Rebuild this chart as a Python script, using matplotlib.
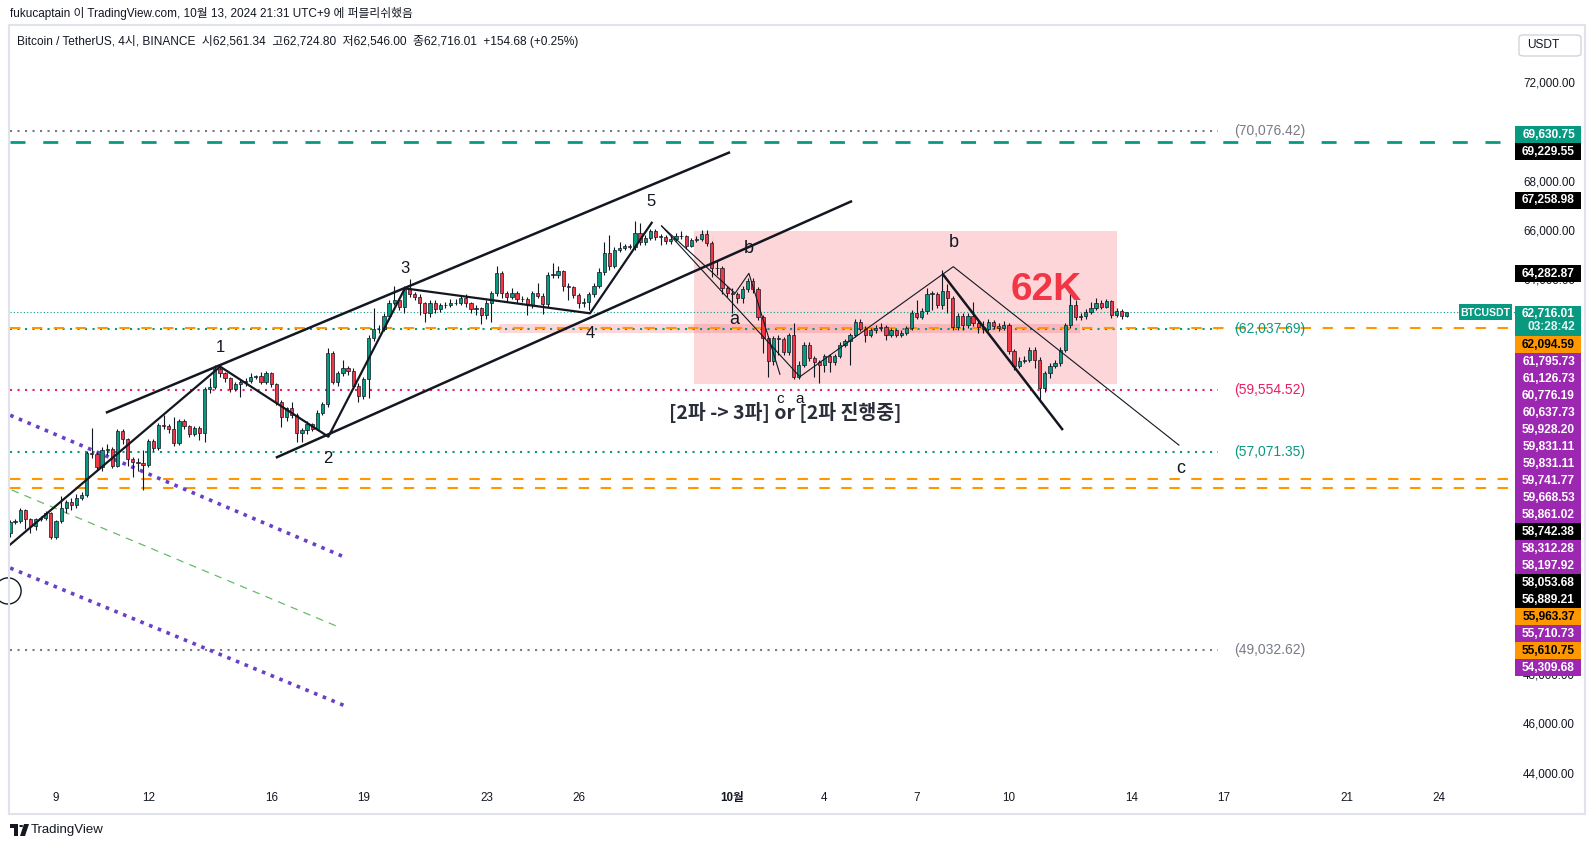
import numpy as np
import matplotlib
matplotlib.use("Agg")
import matplotlib.pyplot as plt
import matplotlib.patches as mpatches

plt.rcParams['font.family'] = ['Liberation Sans', 'Noto Sans CJK KR', 'DejaVu Sans']

W, H = 1596, 848

# ---- 4h candles, BTC/USDT, prices in thousands (first candle: Sep 7 12:00) ----
first_open_k = 53.77
close_k = [
    54.24, 54.26, 54.71, 54.34, 54.06, 54.33, 54.37, 54.58, 53.60, 54.26,
    54.78, 55.02, 54.90, 55.18, 55.32, 57.01, 56.98, 56.44, 57.14, 57.18,
    56.50, 57.92, 57.58, 56.77, 56.64, 56.60, 56.55, 57.52, 57.24, 58.16,
    58.11, 57.99, 57.44, 58.32, 58.10, 57.78, 58.03, 57.82, 59.60, 59.68,
    60.41, 60.25, 60.04, 59.63, 59.82, 59.90, 59.95, 60.11, 60.12, 59.91,
    60.25, 59.80, 59.07, 58.49, 58.83, 58.56, 57.82, 57.95, 58.18, 58.00,
    58.65, 59.00, 61.06, 59.91, 60.25, 60.45, 60.36, 59.75, 59.33, 60.00,
    61.69, 62.03, 62.05, 62.57, 63.08, 63.20, 62.92, 63.65, 63.45, 63.35,
    63.08, 62.70, 63.11, 62.84, 63.00, 63.02, 63.10, 63.09, 63.31, 63.08,
    62.85, 62.90, 62.61, 63.11, 63.49, 64.30, 63.49, 63.35, 63.50, 63.25,
    63.28, 63.02, 63.49, 63.40, 63.06, 64.23, 64.24, 64.39, 63.79, 63.73,
    63.42, 63.11, 63.12, 63.45, 63.79, 64.37, 65.14, 64.60, 65.25, 65.34,
    65.40, 65.38, 65.92, 65.58, 65.72, 66.00, 65.78, 65.79, 65.60, 65.69,
    65.82, 65.80, 65.41, 65.65, 65.68, 65.88, 65.52, 64.50, 64.52, 63.72,
    63.49, 63.45, 63.30, 63.66, 63.99, 63.66, 62.54, 61.66, 60.75, 61.66,
    61.62, 61.13, 61.80, 60.11, 60.59, 61.40, 60.86, 60.70, 60.60, 60.96,
    60.70, 60.93, 61.40, 61.55, 61.80, 62.32, 62.05, 61.80, 62.00, 62.10,
    62.12, 61.80, 62.00, 61.82, 61.90, 62.07, 62.68, 62.55, 62.77, 63.46,
    63.47, 63.02, 63.58, 63.31, 62.14, 62.58, 62.22, 62.58, 62.28, 62.14,
    62.05, 62.32, 62.18, 62.09, 62.22, 61.17, 60.55, 60.75, 60.80, 61.20,
    60.79, 59.64, 60.25, 60.54, 60.66, 61.19, 62.20, 63.02, 62.55, 62.56,
    62.72, 62.90, 63.10, 62.95, 63.16, 62.61, 62.77, 62.56134, 62.71601,
]
high_k = [
    54.30, 54.35, 54.80, 54.75, 54.40, 54.40, 54.45, 54.65, 54.62, 54.30,
    55.29, 55.10, 55.20, 55.35, 55.45, 57.10, 58.02, 57.05, 57.25, 57.40,
    57.25, 58.00, 57.98, 57.62, 56.85, 56.80, 57.14, 57.60, 57.60, 58.25,
    58.55, 58.20, 58.49, 58.40, 58.40, 58.15, 58.10, 58.10, 59.70, 60.05,
    60.59, 60.50, 60.30, 60.10, 59.90, 60.00, 60.05, 60.25, 60.20, 60.30,
    60.35, 60.30, 59.85, 59.15, 58.90, 59.10, 58.65, 58.05, 58.30, 58.25,
    58.75, 59.10, 61.26, 61.15, 60.35, 60.80, 60.55, 60.45, 59.85, 60.10,
    61.80, 62.90, 62.20, 62.70, 63.20, 63.79, 63.30, 63.79, 64.07, 63.55,
    63.45, 63.15, 63.20, 63.20, 63.10, 63.15, 63.25, 63.25, 63.40, 63.45,
    63.15, 63.00, 62.95, 63.20, 63.60, 64.60, 64.40, 63.60, 63.70, 63.60,
    63.40, 63.35, 63.60, 63.90, 63.50, 64.35, 64.70, 64.60, 64.45, 63.90,
    63.80, 63.50, 63.30, 63.55, 63.90, 64.50, 65.55, 65.85, 65.35, 65.55,
    65.50, 65.50, 66.42, 66.35, 65.85, 66.10, 66.10, 65.90, 65.85, 65.85,
    65.95, 66.00, 65.85, 65.75, 65.80, 66.05, 66.05, 65.60, 64.85, 64.60,
    63.80, 63.70, 63.55, 63.80, 64.10, 64.10, 63.75, 62.60, 61.75, 61.75,
    61.80, 61.70, 61.90, 62.30, 60.75, 61.50, 61.50, 60.95, 60.80, 61.05,
    61.05, 61.05, 61.50, 61.65, 61.90, 62.45, 62.45, 62.15, 62.10, 62.20,
    62.30, 62.20, 62.10, 62.05, 62.00, 62.15, 62.80, 63.20, 62.90, 63.70,
    63.60, 63.55, 64.43, 63.85, 63.40, 62.70, 62.70, 62.70, 63.15, 62.40,
    62.35, 62.45, 62.40, 62.30, 62.35, 62.30, 61.25, 60.90, 60.95, 61.30,
    61.30, 60.90, 60.35, 60.65, 60.80, 61.30, 62.30, 63.50, 63.20, 62.70,
    62.85, 63.15, 63.30, 63.20, 63.25, 63.20, 62.90, 62.85, 62.7248,
]
low_k = [
    53.60, 54.15, 54.20, 53.94, 53.78, 53.90, 54.25, 54.30, 53.55, 53.55,
    54.20, 54.60, 54.70, 54.80, 55.10, 55.25, 56.80, 56.35, 56.30, 56.95,
    56.40, 56.45, 57.40, 56.50, 56.06, 56.30, 55.52, 56.45, 57.10, 57.15,
    58.00, 57.85, 57.30, 57.35, 58.00, 57.65, 57.70, 57.55, 57.45, 59.45,
    59.60, 60.10, 59.90, 59.50, 59.55, 59.30, 59.75, 59.85, 60.00, 59.80,
    59.80, 59.70, 58.95, 58.09, 58.30, 58.45, 57.48, 57.48, 57.80, 57.90,
    57.95, 58.55, 58.90, 59.80, 59.75, 60.15, 60.20, 59.60, 59.10, 59.20,
    59.25, 61.55, 61.90, 61.95, 62.45, 63.00, 62.80, 62.70, 63.35, 63.20,
    62.60, 62.34, 62.55, 62.70, 62.75, 62.90, 62.95, 63.00, 63.00, 62.95,
    62.70, 62.60, 62.25, 62.45, 62.34, 63.40, 63.30, 63.15, 63.25, 63.10,
    63.15, 62.60, 62.90, 63.30, 62.65, 62.95, 64.10, 64.10, 63.60, 63.20,
    63.30, 62.90, 62.95, 62.80, 63.35, 63.70, 64.25, 64.45, 64.50, 65.15,
    65.25, 65.30, 65.25, 65.45, 65.45, 65.65, 65.65, 65.45, 65.50, 65.50,
    65.60, 65.70, 65.30, 65.35, 65.55, 65.60, 65.40, 64.15, 64.25, 63.45,
    63.35, 62.70, 63.10, 63.10, 63.55, 63.50, 62.40, 61.06, 60.11, 60.60,
    61.00, 61.00, 61.00, 60.00, 60.00, 60.50, 60.75, 60.11, 59.85, 60.30,
    60.30, 60.60, 60.85, 61.30, 60.60, 61.70, 61.95, 61.50, 61.70, 61.90,
    61.95, 61.60, 61.70, 61.70, 61.70, 61.80, 62.00, 62.45, 62.45, 62.65,
    62.80, 62.90, 62.85, 62.70, 62.00, 62.00, 62.00, 62.10, 62.15, 61.90,
    61.90, 61.95, 62.05, 61.95, 62.00, 61.05, 60.40, 60.45, 60.65, 60.70,
    60.45, 59.10, 59.50, 60.05, 60.45, 60.55, 61.10, 62.10, 62.40, 62.40,
    62.45, 62.65, 62.80, 62.85, 62.90, 62.50, 62.55, 62.45, 62.546,
]
first_day = 7.5          # day-of-September axis (Oct 1 = 31)
candle_step = 1 / 6      # 4 hours

# ---- horizontal levels ----
fib_prices = [70076.42, 62037.69, 59554.52, 57071.35, 49032.62]
fib_colors = ['#787b86', '#089981', '#e91e63', '#089981', '#787b86']
cur_price = 62716.01
teal_dash_price = 69630.75
orange_prices = [62094.59, 55963.37, 55610.75]

# ---- right-axis price labels ----
label_prices = [69630.75, 69229.55, 67258.98, 64282.87, 62094.59, 61795.73, 61126.73,
                60776.19, 60637.73, 59928.20, 59831.11, 59831.11, 59741.77, 59668.53,
                58861.02, 58742.38, 58312.28, 58197.92, 58053.68, 56889.21, 55963.37,
                55710.73, 55610.75, 54309.68]
label_kinds = ['teal', 'black', 'black', 'black', 'orange', 'purple', 'purple',
               'purple', 'purple', 'purple', 'purple', 'purple', 'purple', 'purple',
               'purple', 'black', 'purple', 'purple', 'black', 'black', 'orange',
               'purple', 'orange', 'purple']
axis_ticks = list(range(44000, 72001, 2000))

# ---- time axis ----
date_pos = [9, 12, 16, 19, 23, 26, 31, 34, 37, 40, 44, 47, 51, 54]
date_lbl = ['9', '12', '16', '19', '23', '26', '10월', '4', '7', '10', '14', '17', '21', '24']

# ---- drawings (day, price) ----
wave_days = [7.51, 14.34, 17.86, 20.35, 26.37, 28.38]
wave_prices = [53310, 60520, 57680, 63690, 62680, 66350]
chan_up = ([10.66, 30.89], [58670, 69190])
chan_lo = ([16.19, 34.86], [56850, 67210])
abc_small = ([28.70, 31.09, 31.54, 32.55], [66220, 63490, 64300, 60210])
abc_big = ([28.70, 33.20, 38.19, 45.53], [66220, 60110, 64570, 57340])
thick_down = ([37.87, 41.73], [64230, 57990])
purple_up = ([7.51, 18.37], [58550, 52810])
purple_lo = ([7.51, 18.37], [52360, 46790])
green_dash = ([7.56, 18.27], [55520, 49930])
box_days, box_prices = (29.75, 43.5), (59830, 66015)
band_days, band_prices = (23.41, 42.31), (61870, 62235)

# ---------------------------------------------------------------
X0, X1, Y0, Y1 = 10, 1515, 28, 786
DAY0, DAY1 = 7.5036, 56.463
P_BOT, P_TOP = 43526.6, 74240.8

def py(p):
    return Y0 + (P_TOP - p) / (P_TOP - P_BOT) * (Y1 - Y0)

def px(d):
    return X0 + (d - DAY0) / (DAY1 - DAY0) * (X1 - X0)

def F(x, y):
    return (x / W, 1 - y / H)

fig = plt.figure(figsize=(W / 100, H / 100), dpi=100)
fig.patch.set_facecolor('white')
ax = fig.add_axes([X0 / W, 1 - Y1 / H, (X1 - X0) / W, (Y1 - Y0) / H])
ax.set_xlim(DAY0, DAY1)
ax.set_ylim(P_BOT, P_TOP)
ax.axis('off')

GREEN, RED = '#089981', '#f23645'

# pink zone + band
ax.add_patch(mpatches.Rectangle((box_days[0], box_prices[0]), box_days[1] - box_days[0],
                                box_prices[1] - box_prices[0], facecolor=RED, alpha=0.2,
                                edgecolor='none', zorder=1))
ax.add_patch(mpatches.Rectangle((band_days[0], band_prices[0]), band_days[1] - band_days[0],
                                band_prices[1] - band_prices[0], facecolor=RED, alpha=0.2,
                                edgecolor='none', zorder=1))

# horizontal lines
fib_end = 46.8
for p, c in zip(fib_prices, fib_colors):
    ax.plot([DAY0, fib_end], [p, p], color=c, lw=1.5, dashes=(1, 2.6), zorder=2)
    ax.text(47.33, p, f'({p:,.2f})', color=c, fontsize=10, va='center', ha='left', zorder=6)
ax.plot([DAY0, DAY1], [teal_dash_price] * 2, color=GREEN, lw=2.0, dashes=(5.4, 6.4), zorder=2)
for p in orange_prices:
    ax.plot([DAY0, DAY1], [p, p], color='#ff9800', lw=1.5, dashes=(5, 5.5), zorder=2)
ax.plot([DAY0, DAY1], [cur_price] * 2, color=GREEN, lw=0.8, dashes=(1, 2), zorder=2)

# slanted dotted / dashed
for dd, pp in (purple_up, purple_lo):
    ax.plot(dd, pp, color='#6a3fc8', lw=2.6, dashes=(1, 1.6), zorder=2)
ax.plot(*green_dash, color='#66bb6a', lw=0.9, dashes=(6, 5), zorder=2)

# candles
close = np.array(close_k) * 1000
high = np.array(high_k) * 1000
low = np.array(low_k) * 1000
opn = np.r_[first_open_k * 1000, close[:-1]]
t = first_day + np.arange(len(close)) * candle_step
high = np.maximum(high, np.maximum(opn, close))
low = np.minimum(low, np.minimum(opn, close))
cols = [GREEN if c >= o else RED for o, c in zip(opn, close)]
ax.vlines(t, low, high, color='#131722', lw=0.8, zorder=3)
body = np.maximum(np.abs(close - opn), 25)
ax.bar(t, body, bottom=np.minimum(opn, close), width=0.105, color=cols,
       edgecolor='#131722', linewidth=0.5, zorder=3.5)

# wave drawings
K = '#131722'
ax.plot(wave_days, wave_prices, color=K, lw=1.6, zorder=4)
ax.plot(*chan_up, color=K, lw=1.8, zorder=4)
ax.plot(*chan_lo, color=K, lw=1.8, zorder=4)
ax.plot(*abc_small, color=K, lw=0.8, zorder=4)
ax.plot(*abc_big, color=K, lw=0.8, zorder=4)
ax.plot(*thick_down, color=K, lw=1.8, zorder=4)
ax.add_patch(mpatches.Ellipse((7.44, 51430), 0.85, 1060, fill=False, edgecolor=K,
                              lw=1.0, zorder=4, clip_on=False))

wave_txt = [('1', 14.34, 61275, 12), ('2', 17.85, 56817, 12), ('3', 20.35, 64476, 12),
            ('4', 26.37, 61842, 12), ('5', 28.37, 67210, 12), ('a', 31.06, 62409, 13),
            ('b', 31.54, 65326, 13), ('c', 32.55, 59208, 11), ('a', 33.20, 59208, 11),
            ('b', 38.21, 65569, 13), ('c', 45.60, 56372, 13)]
for s, d, p, fs in wave_txt:
    ax.text(d, p, s, fontsize=fs, color=K, ha='center', va='center', zorder=6)
ax.text(41.21, 63625, '62K', fontsize=28, color=RED, fontweight='bold',
        ha='center', va='center', zorder=6)
ax.text(32.72, 58681, '[2파 -> 3파] or [2파 진행중]', fontsize=14, color='#2a2e39',
        family=['Noto Sans CJK KR'], fontweight='bold', ha='center', va='center', zorder=6)

# ---- price axis labels (stacked like TradingView) ----
kind_col = {'teal': GREEN, 'black': '#000000', 'orange': '#ff9800', 'purple': '#9c27b0'}
LH = 17.0
boxes = []

def price_box(yc, col, txt, tcol='white', h=LH):
    boxes.append((yc - h / 2, yc + h / 2))
    fig.add_artist(mpatches.Rectangle(F(1515, yc + h / 2), 66 / W, h / H,
                                      transform=fig.transFigure, facecolor=col,
                                      edgecolor='none', zorder=5))
    fig.text(*F(1575, yc), txt, fontsize=8.6, color=tcol, fontweight='bold',
             ha='right', va='center', zorder=6)

cur_y = py(cur_price)
top_edge, bot_edge = cur_y - 6, cur_y + 24
above = [(p, k) for p, k in zip(label_prices, label_kinds) if p > cur_price]
below = [(p, k) for p, k in zip(label_prices, label_kinds) if p < cur_price]
edge = top_edge
for p, k in sorted(above):
    yc = min(py(p), edge - LH / 2)
    edge = yc - LH / 2
    price_box(yc, kind_col[k], f'{p:,.2f}', 'black' if k == 'orange' else 'white')
edge = bot_edge
for p, k in sorted(below, reverse=True):
    yc = max(py(p), edge + LH / 2)
    edge = yc + LH / 2
    price_box(yc, kind_col[k], f'{p:,.2f}', 'black' if k == 'orange' else 'white')

boxes.append((top_edge, bot_edge))
fig.add_artist(mpatches.Rectangle(F(1515, bot_edge), 66 / W, 30 / H, transform=fig.transFigure,
                                  facecolor=GREEN, edgecolor='none', zorder=5))
fig.text(*F(1575, cur_y + 2), f'{cur_price:,.2f}', fontsize=8.6, color='white',
         fontweight='bold', ha='right', va='center', zorder=6)
fig.text(*F(1575, cur_y + 15), '03:28:42', fontsize=8.6, color='#e8f5f2',
         fontweight='bold', ha='right', va='center', zorder=6)
fig.add_artist(mpatches.Rectangle(F(1459, cur_y + 8), 53 / W, 16 / H, transform=fig.transFigure,
                                  facecolor=GREEN, edgecolor='none', zorder=5))
fig.text(*F(1485.5, cur_y + 0.5), 'BTCUSDT', fontsize=7.6, color='white', fontweight='bold',
         ha='center', va='center', zorder=6)

# axis ticks: skip the ones hidden behind a label box
for p in axis_ticks:
    y = py(p)
    if any(a + 3 < y < b - 3 for a, b in boxes):
        continue
    fig.text(*F(1575, y), f'{p:,.2f}', fontsize=8.4, color='#131722',
             ha='right', va='center', zorder=3)

# USDT button
fig.add_artist(mpatches.FancyBboxPatch(F(1519, 56), 62 / W, 21 / H, transform=fig.transFigure,
                                       boxstyle='round,pad=0,rounding_size=0.003',
                                       facecolor='white', edgecolor='#d1d4dc', lw=1, zorder=5))
fig.text(*F(1527, 45.5), 'USDT', fontsize=8.6, color='#131722', ha='left', va='center', zorder=6)

# ---- time axis ----
for d, s in zip(date_pos, date_lbl):
    fig.text(*F(px(d), 798), s, fontsize=8.4, color='#131722', ha='center', va='center',
             fontweight='bold' if s == '10월' else 'normal')

# panel frame
fig.add_artist(mpatches.Rectangle(F(9, 814), 1576 / W, 789 / H, transform=fig.transFigure,
                                  facecolor='none', edgecolor='#e0e3eb', lw=1.5, zorder=7))

# header
fig.text(*F(10, 13), 'fukucaptain 이 TradingView.com, 10월 13, 2024 21:31 UTC+9 에 퍼블리쉬했음',
         fontsize=8.5, color='#131722', ha='left', va='center')
fig.text(*F(17, 41), 'Bitcoin / TetherUS, 4시, BINANCE  시62,561.34  고62,724.80  '
         '저62,546.00  종62,716.01  +154.68 (+0.25%)',
         fontsize=8.6, color='#131722', ha='left', va='center', zorder=6)

# TradingView logo
logo = [mpatches.Rectangle(F(10, 828), 8 / W, 4 / H),
        mpatches.Rectangle(F(14, 836), 4 / W, 8 / H),
        mpatches.Polygon([F(24, 824), F(29, 824), F(25, 836), F(20, 836)], closed=True),
        mpatches.Circle(F(21.2, 826), 2 / W)]
for a in logo:
    a.set_transform(fig.transFigure)
    a.set_facecolor('#131722')
    a.set_edgecolor('none')
    fig.add_artist(a)
fig.text(*F(31, 830), 'TradingView', fontsize=9.5, color='#131722', ha='left', va='center')

fig.savefig('out.png', dpi=100, facecolor='white')
